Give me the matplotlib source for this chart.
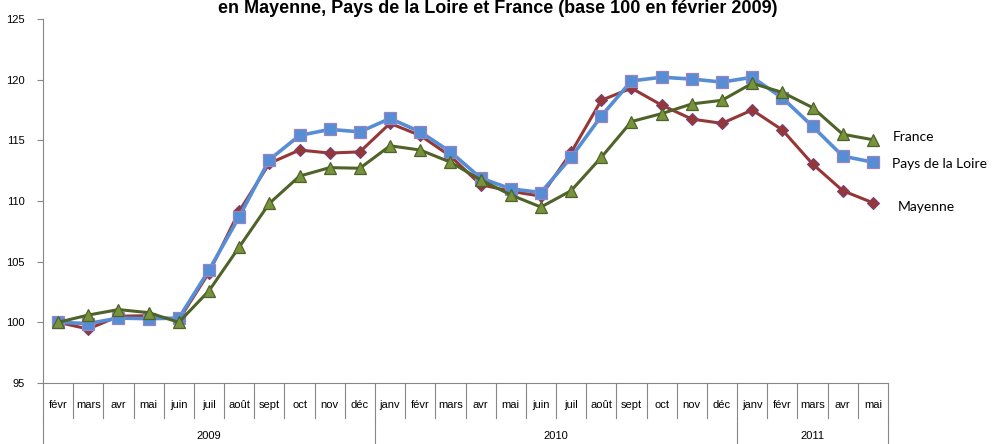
import matplotlib
matplotlib.use("Agg")
import matplotlib.pyplot as plt
import matplotlib.transforms as mtransforms

months = ["févr", "mars", "avr", "mai", "juin", "juil", "août", "sept", "oct", "nov", "déc",
          "janv", "févr", "mars", "avr", "mai", "juin", "juil", "août", "sept", "oct", "nov", "déc",
          "janv", "févr", "mars", "avr", "mai"]
years = ["2009", "2010", "2011"]
year_counts = [11, 12, 5]

mayenne = [100.0, 99.45, 100.5, 100.55, 100.2, 104.1, 109.15, 113.1, 114.2, 113.95, 114.05, 116.4,
           115.4, 113.7, 111.35, 110.8, 110.4, 114.0, 118.3, 119.3, 117.9, 116.75, 116.4, 117.5,
           115.85, 113.05, 110.85, 109.85]
pdl = [100.0, 99.9, 100.35, 100.3, 100.35, 104.3, 108.7, 113.4, 115.4, 115.9, 115.7, 116.8,
       115.7, 114.05, 111.9, 111.0, 110.7, 113.6, 117.0, 119.9, 120.2, 120.05, 119.8, 120.2,
       118.5, 116.15, 113.7, 113.2]
france = [100.0, 100.6, 101.05, 100.8, 100.0, 102.6, 106.2, 109.8, 112.05, 112.75, 112.7, 114.55,
          114.2, 113.2, 111.75, 110.5, 109.5, 110.85, 113.6, 116.55, 117.2, 118.0, 118.3, 119.7,
          118.95, 117.7, 115.5, 115.05]

title = "en Mayenne, Pays de la Loire et France (base 100 en février 2009)"

fig = plt.figure(figsize=(9.95, 4.44), dpi=100)
ax = fig.add_axes([43/995, 1-383/444, 845/995, 364/444])

x = list(range(len(months)))
ax.plot(x, mayenne, color="#953735", lw=2.2, marker="D", ms=6, mfc="#953735", mec="#7a3f7a",
        mew=0.8, zorder=3)
ax.plot(x, pdl, color="#558ED5", lw=2.6, marker="s", ms=8, mfc="#558ED5", mec="#9a84c0",
        mew=0.9, zorder=4)
ax.plot(x, france, color="#4F6228", lw=2.2, marker="^", ms=9, mfc="#77933C", mec="#4F6228",
        mew=0.9, zorder=5)

ax.set_xlim(-0.5, len(months) - 0.5)
ax.set_ylim(95, 125)
ax.set_yticks([95, 100, 105, 110, 115, 120, 125])
ax.tick_params(axis="y", direction="out", length=4, width=0.8, color="#868686",
               labelsize=8, pad=9)
ax.set_xticks([])
for s in ["top", "right"]:
    ax.spines[s].set_visible(False)
ax.spines["left"].set_color("#868686")
ax.spines["bottom"].set_color("#868686")
for lab in ax.get_yticklabels():
    lab.set_fontfamily("Liberation Sans")

# category table below the axis
trans = mtransforms.blended_transform_factory(ax.transData, ax.transAxes)
h = 364
row1 = -35 / h
row2 = -61 / h
for i in range(len(months) + 1):
    ax.plot([i - 0.5, i - 0.5], [0, row1], transform=trans, color="#868686", lw=0.8,
            clip_on=False)
for i, m in enumerate(months):
    ax.text(i, -22 / h, m, transform=trans, ha="center", va="center", fontsize=8,
            family="Liberation Sans")
start = 0
bounds = [0]
for c in year_counts:
    start += c
    bounds.append(start)
for b in bounds:
    ax.plot([b - 0.5, b - 0.5], [row1, row2 - 0.05], transform=trans, color="#868686", lw=0.8,
            clip_on=False)
for yname, b0, b1 in zip(years, bounds[:-1], bounds[1:]):
    ax.text((b0 + b1 - 1) / 2, -53 / h, yname, transform=trans, ha="center", va="center",
            fontsize=8, family="Liberation Sans")

# series labels
ax.annotate("France", xy=(x[-1], france[-1]), xytext=(14, 2), textcoords="offset points",
            ha="left", va="center", fontsize=10, family="Lato", annotation_clip=False)
ax.annotate("Pays de la Loire", xy=(x[-1], pdl[-1]), xytext=(14, -1), textcoords="offset points",
            ha="left", va="center", fontsize=10, family="Lato", annotation_clip=False)
ax.annotate("Mayenne", xy=(x[-1], mayenne[-1]), xytext=(18, -3), textcoords="offset points",
            ha="left", va="center", fontsize=10, family="Lato", annotation_clip=False)

fig.text(0.5, 1 - 13/444, title, ha="center", va="baseline", fontsize=13, fontweight="bold",
         family="Liberation Sans")

fig.savefig("out.png", dpi=100)
